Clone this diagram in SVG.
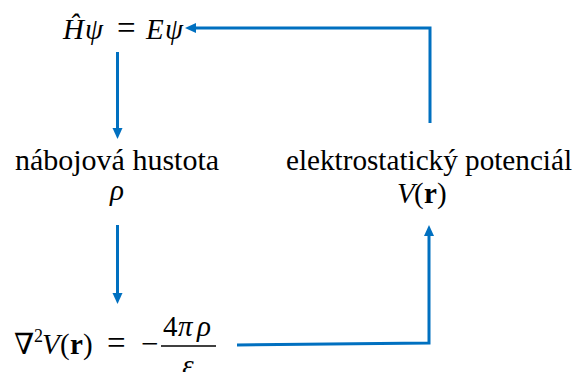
<svg xmlns="http://www.w3.org/2000/svg" width="574" height="372" viewBox="0 0 574 372">
<style>
text{font-family:'Liberation Serif','Times New Roman','DejaVu Serif',serif;fill:#000}
.m{font-size:29px}
.i{font-style:italic}
.b{font-weight:bold}
.c{fill:none;stroke:#0070C0;stroke-width:3}
</style>
<defs>
<marker id="ah" markerUnits="userSpaceOnUse" markerWidth="11" markerHeight="11" refX="3" refY="5.5" orient="auto">
<path d="M0,0.5 L11,5.5 L0,10.5 z" fill="#0070C0"/>
</marker>
</defs>
<rect width="574" height="372" fill="#fff"/>
<g id="schrodinger">
<text class="m" y="39"><tspan class="i" x="63">Ĥ</tspan><tspan class="i" x="85">ψ</tspan><tspan x="117" font-size="33">=</tspan><tspan class="i" x="146">E</tspan><tspan class="i" x="165">ψ</tspan></text>
</g>
<g id="density">
<text x="117" y="170" text-anchor="middle" font-size="30">nábojová hustota</text>
<text class="m i" x="117" y="200" text-anchor="middle">ρ</text>
</g>
<g id="potential">
<text x="429" y="170" text-anchor="middle" font-size="29.2">elektrostatický potenciál</text>
<text class="m" y="203"><tspan class="i" x="397">V</tspan><tspan x="414">(</tspan><tspan class="b" x="424">r</tspan><tspan x="437">)</tspan></text>
</g>
<g id="poisson">
<text class="m" y="354"><tspan x="14">∇</tspan><tspan x="34" y="342" font-size="18">2</tspan><tspan class="i" x="42" y="354">V</tspan><tspan x="60">(</tspan><tspan class="b" x="70">r</tspan><tspan x="83">)</tspan><tspan x="107" font-size="33">=</tspan><tspan x="141" font-size="31">−</tspan></text>
<text class="m" y="336"><tspan x="163">4</tspan><tspan class="i" x="178">π</tspan><tspan class="i" x="197">ρ</tspan></text>
<line x1="161" y1="346" x2="216" y2="346" stroke="#000" stroke-width="1.5"/>
<text class="m i" x="188" y="375" text-anchor="middle">ε</text>
</g>
<g id="connectors">
<path class="c" d="M430,123 V28 H193" marker-end="url(#ah)"/>
<path class="c" d="M117.5,52 V131" marker-end="url(#ah)"/>
<path class="c" d="M117.5,225 V296" marker-end="url(#ah)"/>
<path class="c" d="M237,345 L429,343 V233" marker-end="url(#ah)"/>
</g>
</svg>
